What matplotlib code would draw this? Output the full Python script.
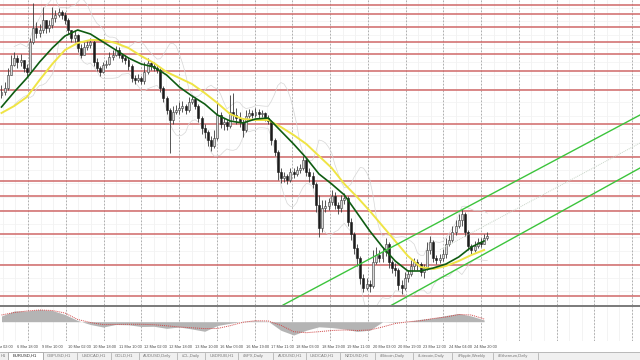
import numpy as np
import pandas as pd
import matplotlib
matplotlib.use("Agg")
import matplotlib.pyplot as plt
from matplotlib.transforms import blended_transform_factory
from matplotlib.lines import Line2D
from matplotlib.patches import Rectangle

# EURUSD H1 - every candle below stands for 2 hourly bars
closes = [
    1.1234, 1.1246, 1.1285, 1.1315, 1.1336, 1.1324, 1.1330, 1.1306, 1.1294, 1.1384,
    1.1426, 1.1411, 1.1420, 1.1450, 1.1426, 1.1435, 1.1456, 1.1465, 1.1474, 1.1465,
    1.1450, 1.1420, 1.1396, 1.1405, 1.1366, 1.1345, 1.1369, 1.1375, 1.1384, 1.1324,
    1.1306, 1.1294, 1.1315, 1.1318, 1.1339, 1.1345, 1.1360, 1.1345, 1.1336, 1.1330,
    1.1312, 1.1276, 1.1270, 1.1276, 1.1267, 1.1294, 1.1321, 1.1312, 1.1306, 1.1300,
    1.1246, 1.1216, 1.1180, 1.1150, 1.1174, 1.1180, 1.1186, 1.1192, 1.1180, 1.1204,
    1.1213, 1.1192, 1.1156, 1.1126, 1.1114, 1.1090, 1.1072, 1.1096, 1.1165, 1.1138,
    1.1144, 1.1132, 1.1174, 1.1165, 1.1156, 1.1144, 1.1120, 1.1162, 1.1171, 1.1165,
    1.1174, 1.1168, 1.1171, 1.1156, 1.1147, 1.1090, 1.1054, 1.0994, 1.0976, 1.0982,
    1.0970, 1.0994, 1.0988, 1.1000, 1.1006, 1.1030, 1.0994, 1.0982, 1.0958, 1.0895,
    1.0826, 1.0886, 1.0892, 1.0904, 1.0922, 1.0895, 1.0886, 1.0910, 1.0916, 1.0844,
    1.0808, 1.0766, 1.0736, 1.0676, 1.0646, 1.0658, 1.0652, 1.0724, 1.0745, 1.0736,
    1.0754, 1.0778, 1.0724, 1.0706, 1.0700, 1.0655, 1.0646, 1.0676, 1.0688, 1.0712,
    1.0724, 1.0718, 1.0694, 1.0706, 1.0760, 1.0784, 1.0736, 1.0730, 1.0736, 1.0748,
    1.0778, 1.0790, 1.0814, 1.0832, 1.0850, 1.0868, 1.0814, 1.0772, 1.0760, 1.0772,
    1.0784, 1.0778, 1.0796, 1.0802,
]
highs = [
    1.1255, 1.1264, 1.1306, 1.1345, 1.1354, 1.1345, 1.1348, 1.1330, 1.1318, 1.1396,
    1.1501, 1.1444, 1.1438, 1.1489, 1.1450, 1.1450, 1.1489, 1.1480, 1.1486, 1.1480,
    1.1474, 1.1456, 1.1420, 1.1420, 1.1408, 1.1378, 1.1384, 1.1390, 1.1396, 1.1390,
    1.1336, 1.1312, 1.1324, 1.1330, 1.1354, 1.1360, 1.1372, 1.1369, 1.1348, 1.1345,
    1.1336, 1.1318, 1.1285, 1.1288, 1.1282, 1.1324, 1.1336, 1.1327, 1.1324, 1.1315,
    1.1306, 1.1252, 1.1222, 1.1186, 1.1192, 1.1195, 1.1204, 1.1207, 1.1198, 1.1219,
    1.1225, 1.1219, 1.1198, 1.1162, 1.1138, 1.1120, 1.1102, 1.1120, 1.1201, 1.1174,
    1.1156, 1.1153, 1.1225, 1.1231, 1.1186, 1.1174, 1.1156, 1.1180, 1.1183, 1.1180,
    1.1186, 1.1183, 1.1180, 1.1174, 1.1165, 1.1150, 1.1096, 1.1060, 1.1006, 1.0994,
    1.0988, 1.1006, 1.1006, 1.1012, 1.1018, 1.1042, 1.1036, 1.1006, 1.0994, 1.0964,
    1.0925, 1.0910, 1.0910, 1.0916, 1.0940, 1.0934, 1.0904, 1.0925, 1.0931, 1.0922,
    1.0856, 1.0814, 1.0778, 1.0742, 1.0688, 1.0676, 1.0670, 1.0760, 1.0769, 1.0760,
    1.0769, 1.0796, 1.0784, 1.0730, 1.0721, 1.0706, 1.0670, 1.0694, 1.0700, 1.0730,
    1.0736, 1.0733, 1.0724, 1.0718, 1.0784, 1.0802, 1.0790, 1.0745, 1.0748, 1.0763,
    1.0796, 1.0805, 1.0832, 1.0850, 1.0868, 1.0883, 1.0874, 1.0820, 1.0778, 1.0787,
    1.0796, 1.0796, 1.0808, 1.0814,
]
lows = [
    1.1216, 1.1225, 1.1240, 1.1294, 1.1312, 1.1306, 1.1312, 1.1294, 1.1282, 1.1288,
    1.1378, 1.1396, 1.1399, 1.1411, 1.1411, 1.1414, 1.1426, 1.1444, 1.1459, 1.1453,
    1.1438, 1.1408, 1.1384, 1.1384, 1.1354, 1.1336, 1.1354, 1.1360, 1.1366, 1.1312,
    1.1297, 1.1282, 1.1291, 1.1306, 1.1315, 1.1330, 1.1342, 1.1336, 1.1324, 1.1318,
    1.1300, 1.1264, 1.1258, 1.1264, 1.1258, 1.1258, 1.1288, 1.1300, 1.1297, 1.1291,
    1.1234, 1.1204, 1.1168, 1.1051, 1.1138, 1.1168, 1.1168, 1.1174, 1.1168, 1.1174,
    1.1198, 1.1183, 1.1144, 1.1108, 1.1096, 1.1072, 1.1057, 1.1066, 1.1090, 1.1126,
    1.1120, 1.1120, 1.1126, 1.1150, 1.1138, 1.1129, 1.1099, 1.1114, 1.1156, 1.1156,
    1.1159, 1.1156, 1.1159, 1.1147, 1.1138, 1.1075, 1.1042, 1.0970, 1.0961, 1.0964,
    1.0958, 1.0964, 1.0976, 1.0982, 1.0991, 1.1000, 1.0982, 1.0964, 1.0946, 1.0874,
    1.0799, 1.0814, 1.0874, 1.0880, 1.0895, 1.0883, 1.0868, 1.0874, 1.0898, 1.0832,
    1.0790, 1.0748, 1.0712, 1.0658, 1.0634, 1.0640, 1.0634, 1.0646, 1.0718, 1.0724,
    1.0724, 1.0742, 1.0706, 1.0691, 1.0682, 1.0640, 1.0628, 1.0640, 1.0664, 1.0682,
    1.0700, 1.0700, 1.0682, 1.0676, 1.0700, 1.0748, 1.0724, 1.0718, 1.0721, 1.0727,
    1.0736, 1.0772, 1.0784, 1.0805, 1.0826, 1.0832, 1.0802, 1.0760, 1.0748, 1.0754,
    1.0766, 1.0769, 1.0778, 1.0790,
]
first_open = 1.1225

# moving averages read at every 4th candle
ma_step = 4
ma_fast = [
    1.1189, 1.1234, 1.1276, 1.1324, 1.1366, 1.1402, 1.1420, 1.1408, 1.1384, 1.1360,
    1.1336, 1.1318, 1.1309, 1.1285, 1.1249, 1.1222, 1.1198, 1.1165, 1.1147, 1.1141,
    1.1153, 1.1156, 1.1117, 1.1078, 1.1036, 1.0988, 1.0958, 1.0925, 1.0871, 1.0817,
    1.0769, 1.0727, 1.0697, 1.0697, 1.0706, 1.0718, 1.0739, 1.0769, 1.0787,
]
ma_slow = [
    1.1171, 1.1192, 1.1219, 1.1270, 1.1318, 1.1360, 1.1381, 1.1390, 1.1390, 1.1381,
    1.1366, 1.1342, 1.1321, 1.1294, 1.1276, 1.1258, 1.1231, 1.1201, 1.1168, 1.1153,
    1.1150, 1.1150, 1.1129, 1.1105, 1.1078, 1.1042, 1.1006, 1.0958, 1.0919, 1.0877,
    1.0832, 1.0787, 1.0742, 1.0709, 1.0703, 1.0712, 1.0727, 1.0745, 1.0760,
]

# MACD window, same sampling
macd_main = [
    0.00057, 0.00107, 0.00107, 0.00122, 0.00112, 0.00072, 0.00012, -0.00028, -0.00053, -0.00028,
    -0.00031, -0.00048, -0.00046, -0.00066, -0.00053, -0.00073, -0.00096, -0.00038, -0.00016, 0.00003,
    0.00009, 0.00004, -0.00086, -0.00133, -0.00085, -0.00051, -0.00059, -0.00073, -0.00097, -0.00085,
    -0.00002, -0.00006, 0.00002, 0.00024, 0.00037, 0.00062, 0.00082, 0.00057, 0.00017,
]
macd_signal = [
    0.00067, 0.00092, 0.00107, 0.00117, 0.00112, 0.00087, 0.00022, -0.00008, -0.00029, -0.00028,
    -0.00026, -0.00026, -0.00030, -0.00041, -0.00053, -0.00061, -0.00069, -0.00068, -0.00040, -0.00006,
    0.00010, 0.00007, -0.00036, -0.00100, -0.00110, -0.00100, -0.00088, -0.00083, -0.00088, -0.00083,
    -0.00053, -0.00018, -0.00001, 0.00010, 0.00032, 0.00047, 0.00072, 0.00067, 0.00027,
]

# horizontal support / resistance levels
levels = [1.1495, 1.1468, 1.1429, 1.1384, 1.1348, 1.1297, 1.1240, 1.1138,
          1.1039, 1.0967, 1.0922, 1.0877, 1.0808, 1.0715, 1.0622]

# equidistant channel, (candle, price) anchors
channel_upper = [(88.7, 1.0595), (201.1, 1.1165)]
channel_lower = [(122.4, 1.0592), (201.1, 1.1006)]
channel_mid = [(138.1, 1.0761), (201.1, 1.1081)]

time_labels = ["6 Mar 02:00", "6 Mar 18:00", "9 Mar 10:00", "10 Mar 02:00", "10 Mar 18:00",
               "11 Mar 10:00", "12 Mar 02:00", "12 Mar 18:00", "13 Mar 10:00", "16 Mar 03:00",
               "16 Mar 19:00", "17 Mar 11:00", "18 Mar 03:00", "18 Mar 19:00", "19 Mar 11:00",
               "20 Mar 03:00", "20 Mar 19:00", "23 Mar 12:00", "24 Mar 04:00", "24 Mar 20:00"]

tabs = ["H1", "EURUSD,H1", "GBPUSD,H1", "USDCAD,H1", "GOLD,H1", "AUDUSD,Daily", "#CL,Daily",
        "USDRUB,H1", "#SPX,Daily", "AUDUSD,H1", "USDCAD,H1", "NZDUSD,H1", "#Bitcoin,Daily",
        "#Litecoin,Daily", "#Ripple,Weekly", "#Ethereum,Daily"]
tab_x = [0.5, 13, 47, 82, 115, 143, 182, 210, 243, 278, 310, 345, 380, 418, 458, 498]
tab_sep = [8, 43, 77, 111, 139, 177, 205, 238, 273, 306, 340, 375, 413, 452, 493, 538]

# ---------------- figure ----------------
W, H = 640, 360
fig = plt.figure(figsize=(6.4, 3.6), dpi=100, facecolor="white")
plt.rcParams["font.family"] = ["Liberation Sans", "DejaVu Sans"]

ax = fig.add_axes([0, 55 / H, 1, 305 / H])
ax.set_xlim(-0.47, 201.1)
ax.set_ylim(1.0595, 1.1510)
ax.axis("off")

# grid
major = np.arange(8.35 - 11.89, 202, 11.89)
minor = np.arange(8.35 - 11.89, 202, 11.89 / 3)
for gx in minor:
    ax.axvline(gx, color="#efefef", lw=0.5, zorder=0)
for gy in np.arange(1.0595, 1.1510, 0.00405):
    ax.axhline(gy, color="#f2f2f2", lw=0.5, zorder=0)
for gx in major:
    ax.axvline(gx, color="#a4a4a4", lw=0.6, ls=(0, (2, 2)), zorder=1)

for lv in levels:
    ax.axhline(lv, color="#d06868", lw=1.1, zorder=2)

x = np.arange(len(closes))
c = np.array(closes)
o = np.r_[first_open, c[:-1]]
hi = np.maximum(np.array(highs), np.maximum(o, c))
lo = np.minimum(np.array(lows), np.minimum(o, c))

# bollinger bands from the closes
s = pd.Series(c)
mid = s.rolling(10, min_periods=5).mean()
sd = s.rolling(10, min_periods=5).std()
ax.plot(x, mid + 2 * sd, color="#d6d6d6", lw=0.5, zorder=3)
ax.plot(x, mid - 2 * sd, color="#d6d6d6", lw=0.5, zorder=3)

ax.vlines(x, lo, hi, color="#3a3a3a", lw=0.6, zorder=4)
up = c >= o
ax.bar(x[up], (c - o)[up], bottom=o[up], width=0.62, color="#d8d8d8",
       edgecolor="#3a3a3a", lw=0.4, zorder=5)
ax.bar(x[~up], (c - o)[~up], bottom=o[~up], width=0.62, color="#1c1c1c",
       edgecolor="#1c1c1c", lw=0.4, zorder=5)

xm = np.arange(0, len(closes) - 1, ma_step)
ax.plot(xm, ma_slow, color="#efe445", lw=1.4, zorder=6)
ax.plot(xm, ma_fast, color="#0f5c12", lw=1.2, zorder=7)

for ch in (channel_upper, channel_lower):
    ax.plot([p[0] for p in ch], [p[1] for p in ch], color="#3cc43c", lw=1.0, zorder=8)
ax.plot([p[0] for p in channel_mid], [p[1] for p in channel_mid], color="#c8d4c8",
        lw=0.7, ls=(0, (1, 1)), zorder=8)

# separator between price and indicator window
fig.add_artist(Line2D([0, 1], [1 - 305.5 / H] * 2, color="#7a7a7a", lw=1.4))

# MACD
axm = fig.add_axes([0, 19 / H, 1, 34 / H])
axm.set_xlim(-0.47, 201.1)
axm.set_ylim(-0.00193, 0.00147)
axm.axis("off")
for gx in minor:
    axm.axvline(gx, color="#efefef", lw=0.5, zorder=0)
for gx in major:
    axm.axvline(gx, color="#a4a4a4", lw=0.6, ls=(0, (2, 2)), zorder=1)
axm.fill_between(xm, 0, macd_main, color="#b4b4b4", lw=0, zorder=2)
axm.plot(xm, macd_signal, color="#d04848", lw=0.7, ls=(0, (1, 1)), zorder=3)

# time axis labels (the first one is cut by the left edge, as in the terminal)
tr = blended_transform_factory(ax.transData, fig.transFigure)
label_pos = 4.9 + 8 * (np.arange(len(time_labels)) - 1)
for lp, lab in zip(label_pos, time_labels):
    fig.text(lp, 1 - 347 / H, lab, transform=tr, fontsize=2.8, color="#4a4a4a",
             ha="left", va="center")

# terminal tabs
fig.add_artist(Rectangle((0, 0), 1, 8 / H, transform=fig.transFigure,
                         facecolor="#f0f0f0", edgecolor="none"))
fig.add_artist(Line2D([0, 1], [8 / H] * 2, color="#b0b0b0", lw=0.6))
fig.add_artist(Rectangle((tab_sep[0] / W, 0), (tab_sep[1] - tab_sep[0]) / W, 8.5 / H,
                         transform=fig.transFigure, facecolor="white",
                         edgecolor="#a0a0a0", lw=0.5))
for sx in tab_sep:
    fig.add_artist(Line2D([sx / W] * 2, [0.5 / H, 7 / H], color="#a8a8a8", lw=0.5))
for i, (tx, name) in enumerate(zip(tab_x, tabs)):
    fig.text(tx / W, 1 - 356 / H, name, fontsize=3.0,
             color="#202020" if i == 1 else "#777777", ha="left", va="center")

fig.savefig("out.png", dpi=100, facecolor="white")
